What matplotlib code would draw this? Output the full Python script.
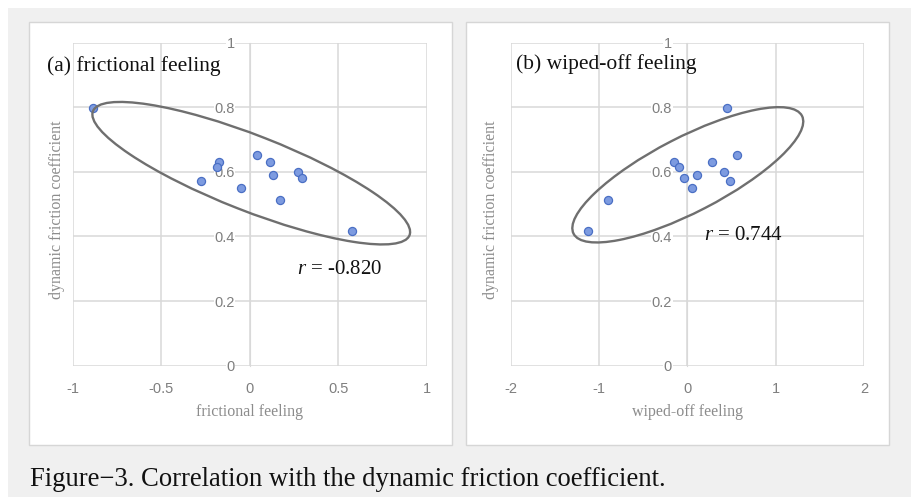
import matplotlib
matplotlib.use("Agg")
import matplotlib.pyplot as plt
from matplotlib.patches import Ellipse, Rectangle
from matplotlib.transforms import ScaledTranslation

# Data
frictional = [-0.885, -0.173, -0.188, -0.275, -0.049, 0.041, 0.113, 0.130, 0.169, 0.271, 0.296, 0.574]
frictional_mu = [0.799, 0.630, 0.616, 0.573, 0.551, 0.652, 0.630, 0.591, 0.513, 0.599, 0.582, 0.417]

wiped_off = [0.452, 0.562, -0.148, -0.091, -0.041, 0.113, 0.049, 0.283, 0.411, 0.479, -0.902, -1.125]
wiped_mu = [0.799, 0.653, 0.630, 0.616, 0.582, 0.591, 0.551, 0.630, 0.599, 0.573, 0.513, 0.418]

xticks_a = [-1, -0.5, 0, 0.5, 1]
xticks_b = [-2, -1, 0, 1, 2]
yticks = [0, 0.2, 0.4, 0.6, 0.8, 1]

plt.rcParams['axes.unicode_minus'] = False
plt.rcParams['mathtext.fontset'] = 'custom'
plt.rcParams['mathtext.it'] = 'Liberation Serif:italic'
plt.rcParams['mathtext.rm'] = 'Liberation Serif'

W, H = 912, 497
fig = plt.figure(figsize=(W / 100, H / 100), dpi=100, facecolor='white')

# grey page background and white chart boxes
fig.patches.append(Rectangle((8 / W, 0), 1, 1 - 8 / H, transform=fig.transFigure,
                             facecolor='#f0f0f0', edgecolor='none', zorder=-3))
for x0, x1 in [(29, 452), (466, 889)]:
    fig.patches.append(Rectangle((x0 / W, 1 - 445 / H), (x1 - x0) / W, (445 - 22) / H,
                                 transform=fig.transFigure, facecolor='white',
                                 edgecolor='#d6d6d6', lw=1.0, zorder=-2))

grid_c = '#d9d9d9'
tick_c = '#7f7f7f'
label_c = '#8c8c8c'


def panel(left_px, right_px, x, y, xticks, xlabel, title, title_px, ell, r_text, r_px, ylab_x):
    ax = fig.add_axes([left_px / W, 1 - 365.7 / H, (right_px - left_px) / W, (365.7 - 42.7) / H])
    ax.set_facecolor('none')
    ax.set_xlim(xticks[0], xticks[-1])
    ax.set_ylim(0, 1)
    ax.set_xticks(xticks)
    ax.set_xticklabels([f'{v:g}' for v in xticks])
    ax.set_yticks(yticks)
    ax.set_yticklabels([f'{v:g}' for v in yticks])
    ax.grid(True, color=grid_c, lw=1.1)
    ax.set_axisbelow(True)
    for s in ['top', 'right', 'bottom']:
        ax.spines[s].set_visible(False)
    ax.spines['left'].set_position(('data', 0))
    ax.spines['left'].set_color(grid_c)
    ax.tick_params(length=0, labelsize=10.5, labelcolor=tick_c)
    ax.tick_params(axis='x', pad=12)
    ax.tick_params(axis='y', pad=11)
    for lab in ax.get_xticklabels() + ax.get_yticklabels():
        lab.set_fontfamily('Liberation Sans')
    for lab in ax.get_yticklabels():
        lab.set_bbox(dict(facecolor='white', edgecolor='none', pad=0.5))

    ax.scatter(x, y, s=34, color='#7d9be0', edgecolor='#4a6fc4', linewidth=0.9, zorder=3)

    cx, cy, w, h, ang = ell
    e = Ellipse((0, 0), w, h, angle=ang, fill=False, edgecolor='#6f6f6f', lw=1.7,
                transform=fig.dpi_scale_trans + ScaledTranslation(cx, cy, ax.transData),
                zorder=4)
    ax.add_patch(e)

    fig.text(title_px[0] / W, 1 - title_px[1] / H, title, fontsize=15.5,
             family='Liberation Serif', color='#111111', va='baseline')
    fig.text(r_px[0] / W, 1 - r_px[1] / H, r_text, fontsize=15,
             family='Liberation Serif', color='#111111', va='baseline')
    fig.text((left_px + right_px) / 2 / W, 1 - 412 / H, xlabel, fontsize=11.5,
             family='Liberation Serif', color=label_c, ha='center', va='center')
    fig.text(ylab_x / W, 1 - 210 / H, 'dynamic friction coefficient', fontsize=11.5,
             family='Liberation Serif', color=label_c, ha='center', va='center',
             rotation=90)
    return ax


panel(73, 427, frictional, frictional_mu, xticks_a, 'frictional feeling',
      '(a) frictional feeling', (47, 70.5), (0.007, 0.596, 3.40, 0.753, -21.4),
      r'$r$ = -0.820', (297, 273.5), 57)
panel(510.7, 864, wiped_off, wiped_mu, xticks_b, 'wiped-off feeling',
      '(b) wiped-off feeling', (516.5, 69.5), (0.005, 0.591, 2.57, 0.748, 27.3),
      r'$r$ = 0.744', (704, 239.5), 491)

fig.text(30 / W, 1 - 485.5 / H, 'Figure\u22123. Correlation with the dynamic friction coefficient.',
         fontsize=19.2, family='Liberation Serif', color='#111111', va='baseline')

fig.savefig('out.png', dpi=100, facecolor=fig.get_facecolor())
